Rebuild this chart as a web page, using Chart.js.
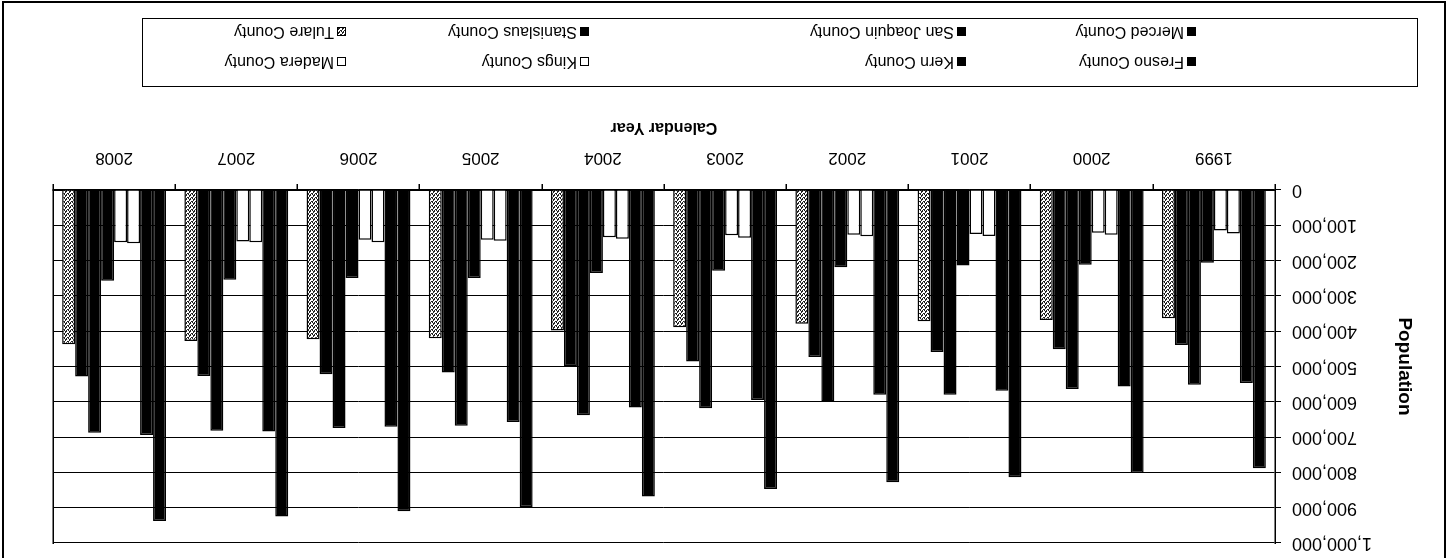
<!DOCTYPE html>
<html>
<head>
<meta charset="utf-8">
<script src="https://cdn.jsdelivr.net/npm/chart.js@4.4.1/dist/chart.umd.min.js"></script>
<style>
  html, body { margin: 0; padding: 0; background: #fff; }
  #wrap {
    position: relative; width: 1452px; height: 558px; overflow: hidden;
    transform: rotate(180deg);
    font-family: "Liberation Sans", Arial, sans-serif;
  }
  #frame {
    position: absolute; left: 6px; top: -4px; width: 1444px; height: 561px;
    border: 2px solid #000; box-sizing: border-box;
  }
  #chartBox { position: absolute; left: 0; top: 0; }
  #legend {
    position: absolute; left: 34px; top: 471px; width: 1276px; height: 69px;
    border: 1.5px solid #000; box-sizing: border-box;
  }
  .item {
    position: absolute; display: flex; align-items: center;
    font-size: 16px; color: #000; white-space: nowrap; line-height: 18px;
  }
  .mark {
    width: 9px; height: 9px; border: 1px solid #000; margin-right: 3px;
    box-sizing: border-box;
  }
</style>
</head>
<body>
<div id="wrap">
  <div id="frame"></div>
  <div id="chartBox"><canvas id="c" width="1452" height="452"></canvas></div>
  <div id="legend"></div>
</div>
<script>
"use strict";

// data
const years = ["1999", "2000", "2001", "2002", "2003", "2004", "2005", "2006", "2007", "2008"];
const fresno = [788000, 802000, 814000, 828000, 847000, 868000, 898000, 910000, 925000, 938000];
const kern = [547000, 557000, 569000, 580000, 595000, 616000, 657000, 671000, 684000, 694000];
const kings = [123000, 127000, 130000, 131000, 135000, 138000, 144000, 148000, 148000, 151000];
const madera = [115000, 121000, 125000, 127000, 128000, 134000, 141000, 141000, 146000, 148000];
const merced = [206000, 212000, 214000, 219000, 229000, 235000, 249000, 249000, 254000, 257000];
const sanJoaquin = [552000, 564000, 580000, 599000, 618000, 638000, 668000, 674000, 682000, 688000];
const stanislaus = [439000, 451000, 459000, 473000, 486000, 499000, 517000, 522000, 527000, 528000];
const tulare = [363000, 368000, 372000, 379000, 389000, 398000, 420000, 423000, 428000, 437000];
const yTicks = [0, 100000, 200000, 300000, 400000, 500000, 600000, 700000, 800000, 900000, 1000000];

// legend grid (unrotated page coords)
const legendCols = [255, 485, 862, 1105];
const legendRows = [495, 525];
const legendLeft = 34, legendTop = 471;

// stipple fill for Tulare
const patCanvas = document.createElement("canvas");
patCanvas.width = 4;
patCanvas.height = 4;
const pctx = patCanvas.getContext("2d");
pctx.fillStyle = "#fff";
pctx.fillRect(0, 0, 4, 4);
pctx.fillStyle = "#222";
[[0, 0], [2, 1], [1, 2], [3, 3], [3, 0], [1, 3], [2, 2]].forEach(function (p) {
  pctx.fillRect(p[0], p[1], 1, 1);
});

const canvas = document.getElementById("c");
const ctx = canvas.getContext("2d");
const stipple = ctx.createPattern(patCanvas, "repeat");

function series(label, data, fill, swatch) {
  return {
    label: label,
    data: data,
    backgroundColor: fill,
    borderColor: "#000",
    borderWidth: 1.5,
    swatch: swatch || fill,
  };
}

const chart = new Chart(canvas, {
  type: "bar",
  data: {
    labels: years,
    datasets: [
      series("Fresno County", fresno, "#000"),
      series("Kern County", kern, "#000"),
      series("Kings County", kings, "#fff"),
      series("Madera County", madera, "#fff"),
      series("Merced County", merced, "#000"),
      series("San Joaquin County", sanJoaquin, "#000"),
      series("Stanislaus County", stanislaus, "#000"),
      series("Tulare County", tulare, stipple, "url(" + patCanvas.toDataURL() + ")"),
    ],
  },
  options: {
    responsive: false,
    animation: false,
    devicePixelRatio: 1,
    layout: { padding: { left: 0, right: 53, top: 15, bottom: 8 } },
    datasets: { bar: { categoryPercentage: 0.85, barPercentage: 1.0 } },
    plugins: {
      legend: { display: false },
      tooltip: { enabled: false },
    },
    scales: {
      x: {
        grid: { display: true, drawOnChartArea: false, offset: true, color: "#000", tickLength: 6, lineWidth: 1.5 },
        border: { display: true, color: "#000", width: 1.5 },
        ticks: { color: "#000", padding: 16, maxRotation: 0, font: { family: "Liberation Sans", size: 17 } },
        title: {
          display: true, text: "Calendar Year", color: "#000",
          padding: { top: 4, bottom: 4 },
          font: { family: "Liberation Sans", size: 16, weight: "bold" },
        },
        afterFit: function (scale) { scale.height = 76; },
      },
      y: {
        min: 0,
        max: 1000000,
        afterBuildTicks: function (scale) {
          scale.ticks = yTicks.map(function (v) { return { value: v }; });
        },
        grid: { color: "#000", lineWidth: 1, tickLength: 6 },
        border: { display: true, color: "#000", width: 1.5 },
        ticks: {
          color: "#000", padding: 11,
          font: { family: "Liberation Sans", size: 18 },
          callback: function (v) { return Number(v).toLocaleString("en-US"); },
        },
        title: {
          display: true, text: "Population", color: "#000",
          padding: { top: 36, bottom: 0 },
          font: { family: "Liberation Sans", size: 19, weight: "bold" },
        },
        afterFit: function (scale) {
          scale.width = 177;
          scale.paddingTop = 10;
          scale.paddingBottom = 10;
        },
      },
      y2: {
        type: "linear",
        position: "right",
        display: true,
        grid: { display: false, drawTicks: false },
        border: { display: true, color: "#000", width: 1.5 },
        ticks: { display: false },
        afterFit: function (scale) {
          scale.width = 0;
          scale.paddingTop = 0;
          scale.paddingBottom = 0;
        },
      },
    },
  },
});

// legend boxes, 2 rows x 4 columns
const legendEl = document.getElementById("legend");
chart.data.datasets.forEach(function (ds, i) {
  const item = document.createElement("div");
  item.className = "item";
  item.style.left = (legendCols[i % 4] - legendLeft) + "px";
  item.style.top = (legendRows[Math.floor(i / 4)] - legendTop - 9) + "px";
  const mark = document.createElement("span");
  mark.className = "mark";
  mark.style.background = ds.swatch;
  const txt = document.createElement("span");
  txt.textContent = ds.label;
  item.appendChild(mark);
  item.appendChild(txt);
  legendEl.appendChild(item);
});
</script>
</body>
</html>
